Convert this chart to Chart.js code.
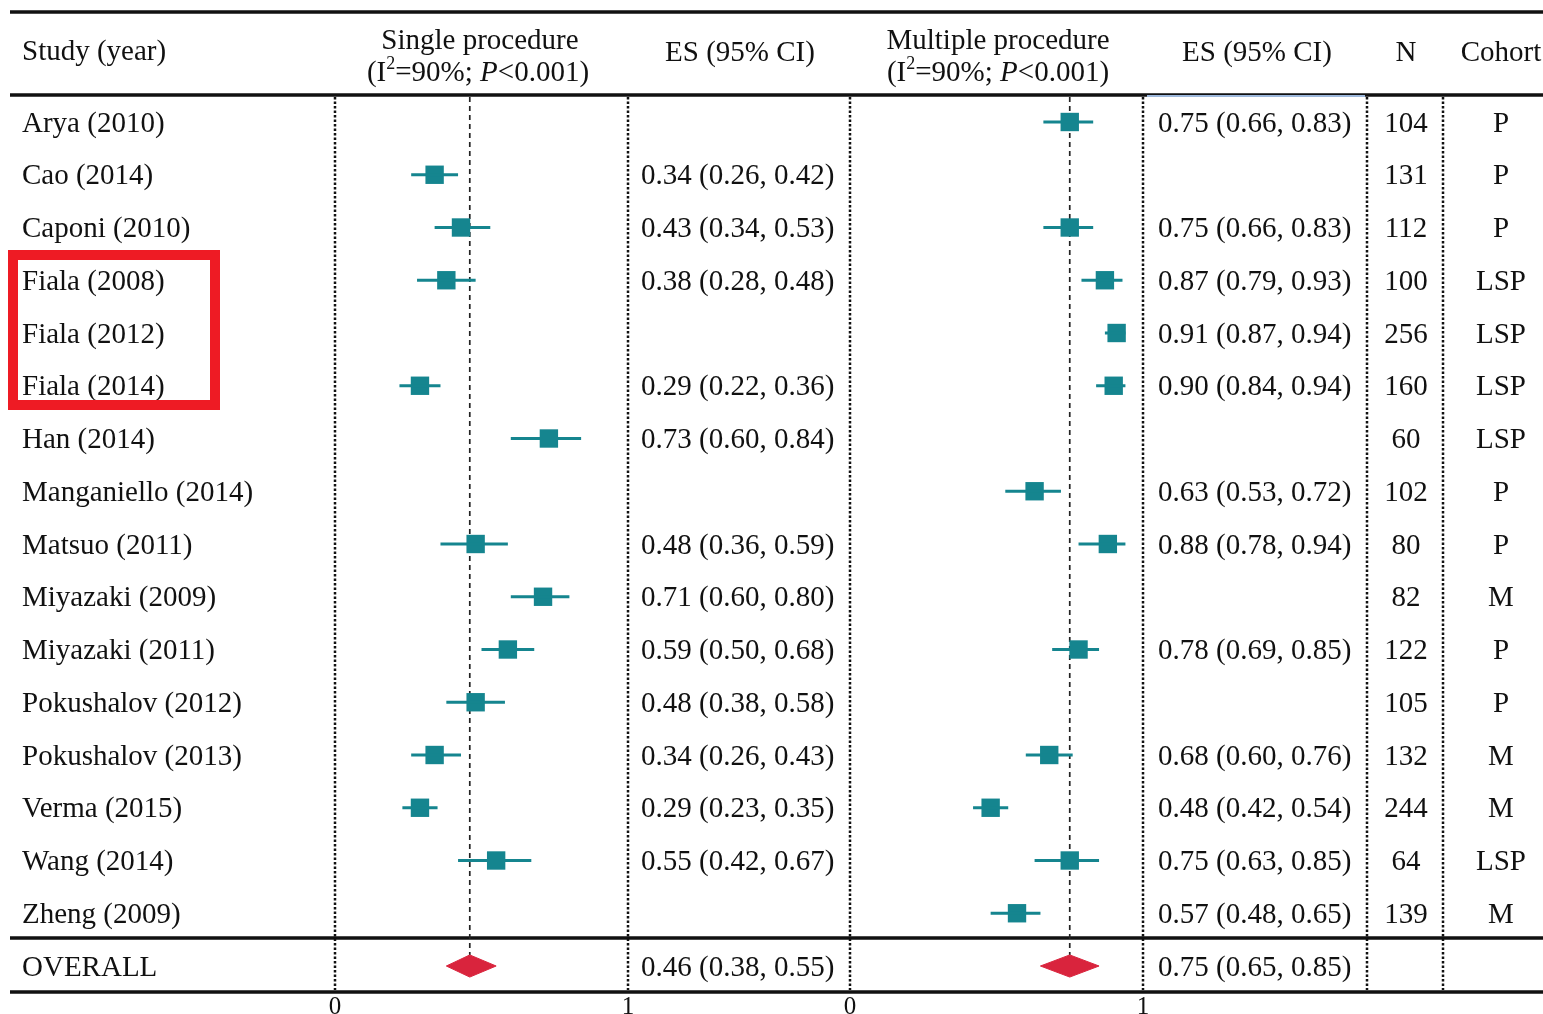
<!DOCTYPE html>
<html>
<head>
<meta charset="utf-8">
<script src="https://cdn.jsdelivr.net/npm/chart.js@4.4.1/dist/chart.umd.min.js"></script>
<style>
  html, body { margin: 0; padding: 0; background: #fff; }
  canvas { display: block; }
</style>
</head>
<body>
<canvas id="forest" width="1543" height="1014"></canvas>
<script>
// data
const studies = ['Arya (2010)', 'Cao (2014)', 'Caponi (2010)', 'Fiala (2008)', 'Fiala (2012)', 'Fiala (2014)',
  'Han (2014)', 'Manganiello (2014)', 'Matsuo (2011)', 'Miyazaki (2009)', 'Miyazaki (2011)',
  'Pokushalov (2012)', 'Pokushalov (2013)', 'Verma (2015)', 'Wang (2014)', 'Zheng (2009)'];
const singleES = [null, 0.34, 0.43, 0.38, null, 0.29, 0.73, null, 0.48, 0.71, 0.59, 0.48, 0.34, 0.29, 0.55, null];
const singleLo = [null, 0.26, 0.34, 0.28, null, 0.22, 0.60, null, 0.36, 0.60, 0.50, 0.38, 0.26, 0.23, 0.42, null];
const singleHi = [null, 0.42, 0.53, 0.48, null, 0.36, 0.84, null, 0.59, 0.80, 0.68, 0.58, 0.43, 0.35, 0.67, null];
const multiES = [0.75, null, 0.75, 0.87, 0.91, 0.90, null, 0.63, 0.88, null, 0.78, null, 0.68, 0.48, 0.75, 0.57];
const multiLo = [0.66, null, 0.66, 0.79, 0.87, 0.84, null, 0.53, 0.78, null, 0.69, null, 0.60, 0.42, 0.63, 0.48];
const multiHi = [0.83, null, 0.83, 0.93, 0.94, 0.94, null, 0.72, 0.94, null, 0.85, null, 0.76, 0.54, 0.85, 0.65];
const sizes = [104, 131, 112, 100, 256, 160, 60, 102, 80, 82, 122, 105, 132, 244, 64, 139];
const cohorts = ['P', 'P', 'P', 'LSP', 'LSP', 'LSP', 'LSP', 'P', 'P', 'M', 'P', 'P', 'M', 'M', 'LSP', 'M'];
const overallSingle = [0.46, 0.38, 0.55]; // es, lo, hi
const overallMulti = [0.75, 0.65, 0.85];
const axisTicks = [0, 1];

// layout
const W = 1543, H = 1014;
const ROW0 = 122, ROW_H = 52.75;
const S0 = 335, M0 = 850, UNIT = 293;
const FONT = "'Liberation Serif', 'Times New Roman', serif";
const TEAL = '#15858f';
const RED = '#d9243d';
const overallRow = studies.length;
const DIAMOND_H = 0.21;
const TXT_DY = 2; // text sits a touch below the row centre

function ciLines(es, lo, hi) {
    const pts = [];
    es.forEach((v, i) => {
        if (v === null) return;
        pts.push({ x: lo[i], y: i }, { x: hi[i], y: i }, { x: null, y: null });
    });
    return pts;
}
function markers(es) {
    return es.map((v, i) => v === null ? { x: null, y: null } : { x: v, y: i });
}
function diamond(o) {
    return [
        { x: o[1], y: overallRow }, { x: o[0], y: overallRow - DIAMOND_H },
        { x: o[2], y: overallRow }, { x: o[0], y: overallRow + DIAMOND_H },
        { x: o[1], y: overallRow }
    ];
}
function fmt(es, lo, hi) {
    return es.toFixed(2) + ' (' + lo.toFixed(2) + ', ' + hi.toFixed(2) + ')';
}

function drawRich(ctx, parts, cx, y, size) {
    let total = 0;
    parts.forEach(p => {
        ctx.font = (p.italic ? 'italic ' : '') + (p.sup ? size * 0.62 : size) + 'px ' + FONT;
        p.w = ctx.measureText(p.t).width;
        total += p.w;
    });
    let x = cx - total / 2;
    ctx.textAlign = 'left';
    parts.forEach(p => {
        ctx.font = (p.italic ? 'italic ' : '') + (p.sup ? size * 0.62 : size) + 'px ' + FONT;
        ctx.fillText(p.t, x, p.sup ? y - size * 0.3 : y);
        x += p.w;
    });
}
const hetParts = () => [{ t: '(I' }, { t: '2', sup: true }, { t: '=90%; ' }, { t: 'P', italic: true }, { t: '<0.001)' }];

const tablePlugin = {
    id: 'table',
    beforeDatasetsDraw(chart) {
        const ctx = chart.ctx;
        const xs = chart.scales.x, xm = chart.scales.x2, ys = chart.scales.y;
        ctx.save();
        ctx.strokeStyle = '#111';
        // horizontal rules
        ctx.lineWidth = 3.5;
        [12, 95, 938, 992].forEach(y => {
            ctx.beginPath(); ctx.moveTo(10, y); ctx.lineTo(W, y); ctx.stroke();
        });
        ctx.strokeStyle = '#9db8dc';
        ctx.lineWidth = 2;
        ctx.beginPath(); ctx.moveTo(1147, 96); ctx.lineTo(1365, 96); ctx.stroke();
        // dotted column separators
        ctx.strokeStyle = '#111';
        ctx.lineWidth = 2.5;
        ctx.setLineDash([2.5, 2]);
        const cols = [];
        axisTicks.forEach(t => cols.push(xs.getPixelForValue(t), xm.getPixelForValue(t)));
        cols.push(1367, 1443);
        cols.forEach(x => {
            ctx.beginPath(); ctx.moveTo(x, 97); ctx.lineTo(x, 990); ctx.stroke();
        });
        // dashed overall-effect lines
        ctx.strokeStyle = '#222';
        ctx.lineWidth = 1.7;
        ctx.setLineDash([5, 4]);
        const yEnd = ys.getPixelForValue(overallRow - DIAMOND_H);
        [[xs, overallSingle[0]], [xm, overallMulti[0]]].forEach(([sc, v]) => {
            const x = sc.getPixelForValue(v);
            ctx.beginPath(); ctx.moveTo(x, 97); ctx.lineTo(x, yEnd); ctx.stroke();
        });
        ctx.restore();
    },
    afterDraw(chart) {
        const ctx = chart.ctx;
        const xs = chart.scales.x, xm = chart.scales.x2, ys = chart.scales.y;
        ctx.save();
        ctx.fillStyle = '#111';
        ctx.textBaseline = 'middle';
        const fs = 29;
        ctx.font = fs + 'px ' + FONT;

        // header
        ctx.textAlign = 'left';
        ctx.fillText('Study (year)', 22, 52);
        ctx.textAlign = 'center';
        ctx.fillText('Single procedure', 480, 41);
        ctx.fillText('ES (95% CI)', 740, 53);
        ctx.fillText('Multiple procedure', 998, 41);
        ctx.fillText('ES (95% CI)', 1257, 53);
        ctx.fillText('N', 1406, 53);
        ctx.fillText('Cohort', 1501, 53);
        drawRich(ctx, hetParts(), 478, 73, fs);
        drawRich(ctx, hetParts(), 998, 73, fs);

        // rows
        ctx.font = fs + 'px ' + FONT;
        studies.forEach((s, i) => {
            const y = ys.getPixelForValue(i) + TXT_DY;
            ctx.textAlign = 'left';
            ctx.fillText(s, 22, y);
            if (singleES[i] !== null) ctx.fillText(fmt(singleES[i], singleLo[i], singleHi[i]), 641, y);
            if (multiES[i] !== null) ctx.fillText(fmt(multiES[i], multiLo[i], multiHi[i]), 1158, y);
            ctx.textAlign = 'center';
            ctx.fillText(String(sizes[i]), 1406, y);
            ctx.fillText(cohorts[i], 1501, y);
        });
        const yo = ys.getPixelForValue(overallRow) + TXT_DY;
        ctx.textAlign = 'left';
        ctx.fillText('OVERALL', 22, yo);
        ctx.fillText(fmt(overallSingle[0], overallSingle[1], overallSingle[2]), 641, yo);
        ctx.fillText(fmt(overallMulti[0], overallMulti[1], overallMulti[2]), 1158, yo);

        // axis ticks
        ctx.font = '25px ' + FONT;
        ctx.textAlign = 'center';
        ctx.textBaseline = 'top';
        axisTicks.forEach(t => {
            ctx.fillText(String(t), xs.getPixelForValue(t), 995);
            ctx.fillText(String(t), xm.getPixelForValue(t), 995);
        });

        // highlight box
        ctx.strokeStyle = '#ee1b24';
        ctx.lineWidth = 10;
        ctx.strokeRect(13, 255, 202, 150);
        ctx.restore();
    }
};

const ctx = document.getElementById('forest').getContext('2d');
const chart = new Chart(ctx, {
    type: 'scatter',
    data: {
        datasets: [{
            data: ciLines(singleES, singleLo, singleHi),
            xAxisID: 'x', showLine: true, spanGaps: false,
            borderColor: TEAL, borderWidth: 3, pointRadius: 0
        }, {
            data: markers(singleES),
            xAxisID: 'x', pointStyle: 'rect', pointRadius: 13,
            backgroundColor: TEAL, borderWidth: 0
        }, {
            data: ciLines(multiES, multiLo, multiHi),
            xAxisID: 'x2', showLine: true, spanGaps: false,
            borderColor: TEAL, borderWidth: 3, pointRadius: 0
        }, {
            data: markers(multiES),
            xAxisID: 'x2', pointStyle: 'rect', pointRadius: 13,
            backgroundColor: TEAL, borderWidth: 0
        }, {
            data: diamond(overallSingle),
            xAxisID: 'x', showLine: true, fill: 'shape',
            borderColor: RED, backgroundColor: RED, borderWidth: 1, pointRadius: 0
        }, {
            data: diamond(overallMulti),
            xAxisID: 'x2', showLine: true, fill: 'shape',
            borderColor: RED, backgroundColor: RED, borderWidth: 1, pointRadius: 0
        }]
    },
    options: {
        responsive: false,
        animation: false,
        devicePixelRatio: 1,
        layout: { padding: 0, autoPadding: false },
        plugins: { legend: { display: false }, tooltip: { enabled: false } },
        scales: {
            x: { type: 'linear', display: false, min: -S0 / UNIT, max: (W - S0) / UNIT },
            x2: { type: 'linear', display: false, min: -M0 / UNIT, max: (W - M0) / UNIT },
            y: { type: 'linear', display: false, reverse: true, min: -ROW0 / ROW_H, max: (H - ROW0) / ROW_H }
        }
    },
    plugins: [tablePlugin]
});
</script>
</body>
</html>
